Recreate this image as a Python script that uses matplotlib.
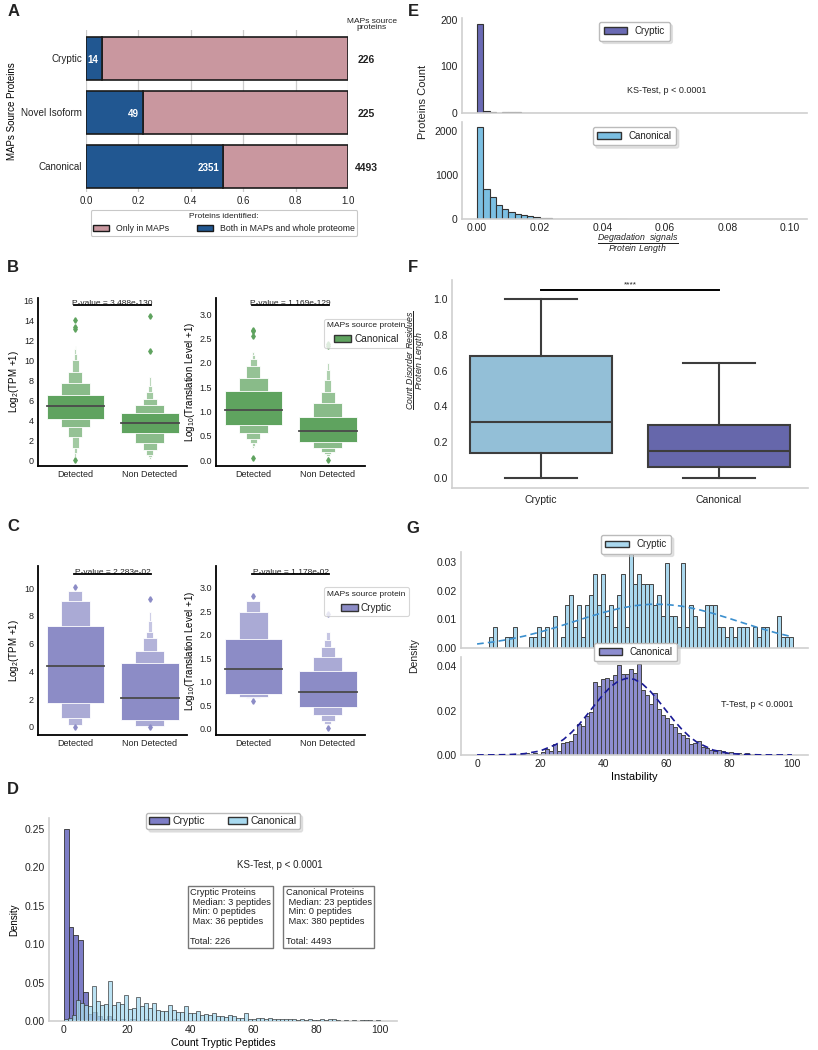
import matplotlib
matplotlib.use("Agg")
import matplotlib.pyplot as plt
import matplotlib.transforms as mtransforms
from matplotlib.patches import Patch
from matplotlib.colors import to_rgb
import numpy as np

plt.rcParams.update({
    "font.family": ["Liberation Sans", "DejaVu Sans"],
    "mathtext.fontset": "custom",
    "mathtext.rm": "Liberation Sans",
    "mathtext.it": "Liberation Sans:italic",
    "mathtext.bf": "Liberation Sans:bold",
    "axes.spines.top": False,
    "axes.spines.right": False,
    "xtick.major.size": 0,
    "ytick.major.size": 0,
    "xtick.major.pad": 3,
    "ytick.major.pad": 3,
    "text.color": "#222222",
    "xtick.color": "#222222",
    "ytick.color": "#222222",
})

# ---------------- A: share of MAPs source proteins also in whole proteome
A_CATS = ["Cryptic", "Novel Isoform", "Canonical"]
A_BOTH = [14, 49, 2351]
A_TOTAL = [226, 225, 4493]

# ---------------- B: canonical, letter-value levels (lower / upper bound per level)
B_TPM_DET_LO = [4.15, 3.35, 2.33, 1.25, 0.7, 0.35, 0.15]
B_TPM_DET_HI = [6.55, 7.7, 8.88, 10.1, 10.7, 11.2, 11.5]
B_TPM_DET_MED = 5.4
B_TPM_DET_OUT = [14.1, 13.35, 13.2, 0.0]
B_TPM_NON_LO = [2.67, 1.73, 1.0, 0.55, 0.3, 0.15]
B_TPM_NON_HI = [4.75, 5.52, 6.12, 6.87, 7.47, 8.37]
B_TPM_NON_MED = 3.74
B_TPM_NON_OUT = [14.5, 10.96]
B_TL_DET_LO = [0.72, 0.55, 0.43, 0.36, 0.3, 0.25]
B_TL_DET_HI = [1.41, 1.68, 1.94, 2.07, 2.16, 2.23]
B_TL_DET_MED = 1.02
B_TL_DET_OUT = [2.68, 2.65, 2.54, 0.05]
B_TL_NON_LO = [0.38, 0.25, 0.17, 0.12, 0.08, 0.05]
B_TL_NON_HI = [0.89, 1.18, 1.39, 1.65, 1.85, 2.0]
B_TL_NON_MED = 0.6
B_TL_NON_OUT = [2.38, 2.34, 0.0]
B_PVAL = ["P-value = 3.488e-130", "P-value = 1.169e-129"]

# ---------------- C: cryptic
C_TPM_DET_LO = [1.74, 0.65, 0.15]
C_TPM_DET_HI = [7.3, 9.05, 9.8]
C_TPM_DET_MED = 4.4
C_TPM_DET_OUT = [10.1, 0.0]
C_TPM_NON_LO = [0.5, 0.06, 0.04, 0.03, 0.02, 0.01]
C_TPM_NON_HI = [4.6, 5.5, 6.4, 6.85, 7.6, 8.3]
C_TPM_NON_MED = 2.1
C_TPM_NON_OUT = [9.2, 0.0]
C_TL_DET_LO = [0.73, 0.68, 0.66]
C_TL_DET_HI = [1.9, 2.49, 2.73]
C_TL_DET_MED = 1.28
C_TL_DET_OUT = [2.82, 0.59]
C_TL_NON_LO = [0.46, 0.28, 0.15, 0.1, 0.07]
C_TL_NON_HI = [1.23, 1.52, 1.74, 1.88, 2.05]
C_TL_NON_MED = 0.78
C_TL_NON_OUT = [2.44, 0.0]
C_PVAL = ["P-value = 2.283e-02", "P-value = 1.178e-02"]

GROUPS = ["Detected", "Non Detected"]

# ---------------- D: tryptic peptide counts (density per bin)
D_CRYP_BINW = 1.5
D_CRYP_DENS = [0.250, 0.122, 0.112, 0.105, 0.038, 0.009, 0.012, 0.006, 0.003, 0.006,
               0.003, 0.0, 0.003, 0.0, 0.003, 0.0, 0.0, 0.003, 0.0, 0.0,
               0.0, 0.0, 0.0, 0.003]
D_CANON_BINW = 1.267
D_CANON_DENS = [0.002, 0.004, 0.008, 0.027, 0.024, 0.021, 0.020, 0.046, 0.026, 0.021,
                0.022, 0.052, 0.021, 0.025, 0.022, 0.034, 0.016, 0.017, 0.031, 0.020,
                0.023, 0.017, 0.023, 0.014, 0.013, 0.013, 0.021, 0.014, 0.012, 0.012,
                0.019, 0.011, 0.010, 0.013, 0.008, 0.009, 0.008, 0.010, 0.006, 0.006,
                0.005, 0.008, 0.006, 0.004, 0.004, 0.010, 0.003, 0.003, 0.004, 0.004,
                0.003, 0.004, 0.002, 0.002, 0.002, 0.003, 0.002, 0.002, 0.001, 0.002,
                0.001, 0.002, 0.001, 0.001, 0.002, 0.001, 0.002, 0.002, 0.001, 0.0,
                0.001, 0.0, 0.001, 0.0, 0.001, 0.001, 0.001, 0.0, 0.001]
D_STATS = ["Cryptic Proteins\n Median: 3 peptides\n Min: 0 peptides\n Max: 36 peptides\n\nTotal: 226",
           "Canonical Proteins\n Median: 23 peptides\n Min: 0 peptides\n Max: 380 peptides\n\nTotal: 4493"]

# ---------------- E: degradation signals / protein length (counts, bins of 0.002)
E_BINW = 0.002
E_CRYP_COUNTS = [192, 5, 2, 1, 2, 2, 2, 1, 0, 1, 1, 0, 1, 1, 0, 0, 0, 0, 0, 1,
                 0, 0, 0, 0, 0, 0, 0, 0, 0, 0, 0, 0, 0, 1, 0, 0, 0, 0, 0, 0,
                 0, 0, 0, 0, 0, 0, 0, 0, 1, 0]
E_CANON_COUNTS = [2100, 690, 500, 330, 230, 170, 120, 85, 60, 38, 25, 20, 12, 9, 6, 4, 3, 2, 2, 1,
                  1, 1, 0, 1]

# ---------------- F: disorder fraction box stats
F_CATS = ["Cryptic", "Canonical"]
F_Q1 = [0.14, 0.06]
F_MED = [0.315, 0.15]
F_Q3 = [0.68, 0.295]
F_WLO = [0.0, 0.0]
F_WHI = [1.0, 0.64]

# ---------------- G: instability
G_CRYP_X0, G_CRYP_X1 = 3.9, 100.2
G_CRYP_COUNTS = [1, 2, 0, 0, 1, 1, 2, 0, 0, 0, 1, 1, 2, 1, 2, 0, 3, 0, 1, 4,
                 5, 2, 4, 1, 4, 5, 7, 4, 7, 3, 4, 2, 5, 7, 2, 9, 6, 7, 6, 6,
                 6, 4, 5, 3, 8, 3, 3, 2, 8, 2, 4, 3, 2, 2, 4, 4, 4, 2, 2, 1,
                 2, 1, 2, 2, 2, 0, 2, 1, 2, 2, 0, 0, 3, 1, 1, 1]
G_CANON_X0, G_CANON_BINW = 5.1, 1.27
G_CANON_DENS = [0.0, 0.0001, 0.0, 0.0001, 0.0002, 0.0002, 0.0003, 0.0003, 0.0010, 0.0003,
                0.0007, 0.0005, 0.0015, 0.0027, 0.0018, 0.0050, 0.0018, 0.0055, 0.0060, 0.0064,
                0.0093, 0.0140, 0.0130, 0.0177, 0.0195, 0.0330, 0.0310, 0.0345, 0.0350, 0.0337,
                0.0360, 0.0408, 0.0367, 0.0367, 0.0390, 0.0370, 0.0410, 0.0295, 0.0270, 0.0230,
                0.0280, 0.0210, 0.0180, 0.0165, 0.0140, 0.0125, 0.0100, 0.0090, 0.0075, 0.0048,
                0.0055, 0.0063, 0.0034, 0.0030, 0.0022, 0.0018, 0.0022, 0.0020, 0.0010, 0.0012,
                0.0009, 0.0007, 0.0004, 0.0010, 0.0004, 0.0004, 0.0002, 0.0002, 0.0001, 0.0001,
                0.0001]
G_CRYP_FIT_X = [0, 5, 10, 15, 20, 25, 30, 35, 40, 45, 50, 55, 60, 65, 70, 75, 80, 85, 90, 95, 100]
G_CRYP_FIT_Y = [0.00139, 0.00208, 0.00299, 0.00416, 0.00557, 0.00719, 0.00895, 0.01073, 0.01239,
                0.01379, 0.01480, 0.01530, 0.01524, 0.01463, 0.01354, 0.01207, 0.01037, 0.00859,
                0.00686, 0.00527, 0.00391]
G_CANON_FIT_X = [0, 5, 10, 15, 20, 25, 27.5, 30, 32.5, 35, 37.5, 40, 42.5, 45, 47.5, 50, 52.5,
                 55, 57.5, 60, 62.5, 65, 67.5, 70, 75, 80, 85, 90, 95, 100]
G_CANON_FIT_Y = [0.0, 0.00003, 0.00015, 0.00057, 0.00179, 0.00469, 0.00708, 0.01019, 0.01399,
                 0.01831, 0.02287, 0.02724, 0.03094, 0.03353, 0.03466, 0.03417, 0.03213, 0.02883,
                 0.02466, 0.02013, 0.01567, 0.01164, 0.00824, 0.00556, 0.00220, 0.00072, 0.00020,
                 0.00004, 0.00001, 0.0]

PINK = "#c9979f"
NAVY = "#215791"
GREEN = "#5fa35f"
PURPLE = "#8c8cc6"
SLATE = "#6a6ab4"
SKY = "#7bbfe2"
LIGHTBLUE = "#aad8ee"
GRAY_SPINE = "#cfcfcf"
EDGE = "#333333"
SHADOW = {"color": "0.8", "alpha": 0.5}


def lighten(color, amount):
    r, g, b = to_rgb(color)
    return (r + (1 - r) * amount, g + (1 - g) * amount, b + (1 - b) * amount)


def soft_spines(ax):
    for s in ["left", "bottom"]:
        ax.spines[s].set_color(GRAY_SPINE)
        ax.spines[s].set_linewidth(1.2)


def boxen(ax, x, lo, hi, med, out, color):
    w = 0.77
    for k in range(len(lo) - 1, -1, -1):
        shade = color if k == 0 else lighten(color, min(0.18 + 0.08 * k, 0.75))
        ax.bar(x, hi[k] - lo[k], bottom=lo[k], width=w * 0.5 ** k, color=shade,
               edgecolor="white", linewidth=0.6, zorder=2)
    ax.plot([x - w / 2, x + w / 2], [med, med], color="#4a4a4a", lw=1.3, zorder=3)
    ax.plot([x] * len(out), out, "d", color=color, ms=2.8, zorder=3)


def pval(ax, y, text):
    ax.plot([-0.02, 1.02], [y, y], color="black", lw=1.3, clip_on=False, zorder=4)
    ax.text(0.5, y, text, ha="center", va="baseline", fontsize=6, clip_on=False)


def boxen_axes(ax, data, color, ylim, yticks, ylabel, pv, pv_y, legend_label=None):
    for x, (lo, hi, med, out) in enumerate(data):
        boxen(ax, x, lo, hi, med, out, color)
    ax.set_xlim(-0.5, 1.5)
    ax.set_ylim(*ylim)
    ax.set_yticks(yticks)
    ax.set_xticks([0, 1])
    ax.set_xticklabels(GROUPS, fontsize=6.5)
    ax.tick_params(axis="y", labelsize=6.5)
    for s in ["left", "bottom"]:
        ax.spines[s].set_linewidth(1.3)
        ax.spines[s].set_color("black")
    ax.set_ylabel(ylabel, fontsize=7, labelpad=2)
    pval(ax, pv_y, pv)
    if legend_label:
        h = [Patch(facecolor=color, edgecolor=EDGE, lw=1, label=legend_label)]
        leg = ax.legend(handles=h, title="MAPs source protein", loc="upper left",
                        bbox_to_anchor=(0.69, 0.905), fontsize=7.2, title_fontsize=6,
                        handlelength=1.7, handletextpad=0.3, borderpad=0.35,
                        frameon=True, edgecolor="#cccccc", fancybox=True)
        leg.get_frame().set_linewidth(0.8)


fig = plt.figure(figsize=(8.18, 10.5), dpi=100)

# ---------------- Panel A
axA = fig.add_axes([0.1051, 0.8171, 0.3203, 0.1543])
frac = np.array(A_BOTH) / np.array(A_TOTAL)
ys = np.arange(len(A_CATS))
axA.barh(ys, 1 - frac, left=frac, height=0.8, color=PINK, edgecolor="#1a1a1a", lw=1.2, zorder=2)
axA.barh(ys, frac, height=0.8, color=NAVY, edgecolor="#1a1a1a", lw=1.2, zorder=2)
row = mtransforms.blended_transform_factory(axA.transAxes, axA.transData)
for y, f, n, t in zip(ys, frac, A_BOTH, A_TOTAL):
    axA.text(f - 0.015, y + 0.03, str(n), ha="right", va="center", color="white",
             fontsize=7, fontweight="bold", zorder=3)
    axA.text(1.07, y + 0.03, str(t), transform=row, ha="center", va="center",
             fontsize=7.5, fontweight="bold")
axA.text(1.09, 1.035, "MAPs source\nproteins", transform=axA.transAxes, ha="center", va="center",
         fontsize=6, linespacing=0.9)
axA.set_xlim(0, 1)
axA.set_ylim(2.48, -0.52)
axA.set_yticks(ys)
axA.set_yticklabels(A_CATS, fontsize=7.1)
axA.set_xticks(np.arange(0, 1.01, 0.2))
axA.tick_params(axis="x", labelsize=7)
axA.grid(axis="x", color="#cccccc", lw=0.9, zorder=0)
axA.set_axisbelow(True)
for s in axA.spines.values():
    s.set_visible(False)
axA.set_ylabel("MAPs Source Proteins", fontsize=7, labelpad=3)
legA = axA.legend(handles=[Patch(facecolor=PINK, edgecolor="#1a1a1a", label="Only in MAPs"),
                           Patch(facecolor=NAVY, edgecolor="#1a1a1a", label="Both in MAPs and whole proteome")],
                  title="Proteins identified:", ncol=2, loc="upper center", bbox_to_anchor=(0.527, -0.085),
                  fontsize=6.3, title_fontsize=6, handlelength=1.8, handleheight=0.8,
                  columnspacing=3.2, borderpad=0.3, frameon=True, edgecolor="#bbbbbb")
legA.get_frame().set_linewidth(0.8)

# ---------------- Panel B
axB1 = fig.add_axes([0.0465, 0.5562, 0.1822, 0.16])
axB2 = fig.add_axes([0.2641, 0.5562, 0.1822, 0.16])
boxen_axes(axB1, [(B_TPM_DET_LO, B_TPM_DET_HI, B_TPM_DET_MED, B_TPM_DET_OUT),
                  (B_TPM_NON_LO, B_TPM_NON_HI, B_TPM_NON_MED, B_TPM_NON_OUT)],
           GREEN, (-0.6, 16.3), np.arange(0, 17, 2), r"Log$_2$(TPM +1)", B_PVAL[0], 15.6)
boxen_axes(axB2, [(B_TL_DET_LO, B_TL_DET_HI, B_TL_DET_MED, B_TL_DET_OUT),
                  (B_TL_NON_LO, B_TL_NON_HI, B_TL_NON_MED, B_TL_NON_OUT)],
           GREEN, (-0.12, 3.33), np.arange(0, 3.01, 0.5), r"Log$_{10}$(Translation Level +1)",
           B_PVAL[1], 3.18, legend_label="Canonical")
axB2.set_yticklabels([f"{v:.1f}" for v in np.arange(0, 3.01, 0.5)])

# ---------------- Panel C
axC1 = fig.add_axes([0.0465, 0.30, 0.1822, 0.161])
axC2 = fig.add_axes([0.2641, 0.30, 0.1822, 0.161])
boxen_axes(axC1, [(C_TPM_DET_LO, C_TPM_DET_HI, C_TPM_DET_MED, C_TPM_DET_OUT),
                  (C_TPM_NON_LO, C_TPM_NON_HI, C_TPM_NON_MED, C_TPM_NON_OUT)],
           PURPLE, (-0.58, 11.6), np.arange(0, 11, 2), r"Log$_2$(TPM +1)", C_PVAL[0], 11.0)
boxen_axes(axC2, [(C_TL_DET_LO, C_TL_DET_HI, C_TL_DET_MED, C_TL_DET_OUT),
                  (C_TL_NON_LO, C_TL_NON_HI, C_TL_NON_MED, C_TL_NON_OUT)],
           PURPLE, (-0.14, 3.47), np.arange(0, 3.01, 0.5), r"Log$_{10}$(Translation Level +1)",
           C_PVAL[1], 3.3, legend_label="Cryptic")
axC2.set_yticklabels([f"{v:.1f}" for v in np.arange(0, 3.01, 0.5)])

# ---------------- Panel D
axD = fig.add_axes([0.0599, 0.0276, 0.4254, 0.1933])
d_cryp_left = np.arange(len(D_CRYP_DENS)) * D_CRYP_BINW
d_canon_left = np.arange(len(D_CANON_DENS)) * D_CANON_BINW
axD.bar(d_cryp_left, D_CRYP_DENS, width=D_CRYP_BINW, align="edge", color="#7d7dc6",
        edgecolor=EDGE, lw=0.6, zorder=2)
axD.bar(d_canon_left, D_CANON_DENS, width=D_CANON_BINW, align="edge", color="#a8daf0",
        alpha=0.78, edgecolor=EDGE, lw=0.6, zorder=3)
axD.set_xlim(-4.7, 105.4)
axD.set_ylim(0, 0.264)
axD.set_xticks(np.arange(0, 101, 20))
axD.set_yticks(np.arange(0, 0.26, 0.05))
axD.set_yticklabels([f"{v:.2f}" for v in np.arange(0, 0.26, 0.05)])
axD.tick_params(labelsize=7.5)
soft_spines(axD)
axD.set_xlabel("Count Tryptic Peptides", fontsize=7.5, labelpad=2)
axD.set_ylabel("Density", fontsize=7, labelpad=4)
axD.legend(handles=[Patch(facecolor="#7d7dc6", edgecolor=EDGE, label="Cryptic"),
                    Patch(facecolor="#a8daf0", edgecolor=EDGE, label="Canonical")],
           ncol=2, loc="center", bbox_to_anchor=(0.5, 0.985), fontsize=7.5,
           handlelength=1.9, columnspacing=2.2, handletextpad=0.3, borderpad=0.3,
           frameon=True, edgecolor="#bbbbbb", shadow=SHADOW)
axD.text(0.664, 0.768, "KS-Test, p < 0.0001", transform=axD.transAxes, ha="center", va="center",
         fontsize=7)
for x0, txt in zip([0.405, 0.68], D_STATS):
    axD.text(x0, 0.655, txt, transform=axD.transAxes, ha="left", va="top", fontsize=6.7,
             linespacing=1.1, bbox=dict(boxstyle="square,pad=0.25", fc="white", ec="#777777", lw=1.0))

# ---------------- Panel E
axE1 = fig.add_axes([0.5648, 0.8924, 0.4218, 0.0905])
axE2 = fig.add_axes([0.5648, 0.7914, 0.4218, 0.0924])
e_left_c = np.arange(len(E_CRYP_COUNTS)) * E_BINW
e_left_k = np.arange(len(E_CANON_COUNTS)) * E_BINW
axE1.bar(e_left_c, E_CRYP_COUNTS, width=E_BINW, align="edge", color=SLATE, edgecolor=EDGE, lw=0.8)
axE2.bar(e_left_k, E_CANON_COUNTS, width=E_BINW, align="edge", color=SKY, edgecolor=EDGE, lw=0.8)
for ax, top, ticks in [(axE1, 204, [0, 100, 200]), (axE2, 2205, [0, 1000, 2000])]:
    ax.set_xlim(-0.0048, 0.1054)
    ax.set_ylim(0, top)
    ax.set_yticks(ticks)
    ax.tick_params(labelsize=7.5)
    soft_spines(ax)
axE1.set_xticks([])
axE2.set_xticks(np.arange(0, 0.101, 0.02))
axE2.set_xticklabels([f"{v:.2f}" for v in np.arange(0, 0.101, 0.02)])
axE1.legend(handles=[Patch(facecolor=SLATE, edgecolor=EDGE, label="Cryptic")], loc="center",
            bbox_to_anchor=(0.5, 0.86), fontsize=7, handlelength=2.4, borderpad=0.45,
            edgecolor="#bbbbbb", shadow=SHADOW)
axE2.legend(handles=[Patch(facecolor=SKY, edgecolor=EDGE, label="Canonical")], loc="center",
            bbox_to_anchor=(0.5, 0.856), fontsize=7, handlelength=2.4, borderpad=0.45,
            edgecolor="#bbbbbb", shadow=SHADOW)
axE1.text(0.594, 0.24, "KS-Test, p < 0.0001", transform=axE1.transAxes, ha="center", va="center",
          fontsize=6.5)
fig.text(0.517, 0.903, "Proteins Count", rotation=90, ha="center", va="center", fontsize=8)
fig.text(0.78, 0.768, r"$\dfrac{\mathit{Degradation\ \ signals}}{\mathit{Protein\ Length}}$",
         ha="center", va="center", fontsize=6.3)

# ---------------- Panel F
axF = fig.add_axes([0.5526, 0.5352, 0.4352, 0.1981])
stats = [dict(label=c, q1=q1, med=m, q3=q3, whislo=lo, whishi=hi, fliers=[])
         for c, q1, m, q3, lo, hi in zip(F_CATS, F_Q1, F_MED, F_Q3, F_WLO, F_WHI)]
line_kw = dict(color="#3d3d3d", lw=1.5)
bp = axF.bxp(stats, positions=[0, 1], widths=0.8, capwidths=0.4, patch_artist=True,
             showfliers=False, boxprops=dict(edgecolor="#3d3d3d", lw=1.5),
             medianprops=line_kw, whiskerprops=line_kw, capprops=line_kw)
for patch, c in zip(bp["boxes"], ["#93bfd7", "#6667ab"]):
    patch.set_facecolor(c)
axF.set_xlim(-0.5, 1.5)
axF.set_ylim(-0.056, 1.106)
axF.set_yticks(np.arange(0, 1.01, 0.2))
axF.set_yticklabels([f"{v:.1f}" for v in np.arange(0, 1.01, 0.2)])
axF.tick_params(labelsize=7.5)
axF.tick_params(axis="x", labelsize=7.5, pad=5)
soft_spines(axF)
axF.plot([0, 1], [1.05, 1.05], color="black", lw=1.4)
axF.text(0.5, 1.062, "****", ha="center", va="bottom", fontsize=6)
fig.text(0.508, 0.657, r"$\dfrac{\mathit{Count\ Disorder\ Residues}}{\mathit{Protein\ Length}}$",
         rotation=90, ha="center", va="center", fontsize=6.3)

# ---------------- Panel G
axG1 = fig.add_axes([0.5636, 0.3829, 0.4242, 0.0914])
axG2 = fig.add_axes([0.5636, 0.2810, 0.4242, 0.0933])
g_cryp_edges = np.linspace(G_CRYP_X0, G_CRYP_X1, len(G_CRYP_COUNTS) + 1)
g_cryp_w = g_cryp_edges[1] - g_cryp_edges[0]
g_cryp_counts = np.array(G_CRYP_COUNTS, dtype=float)
axG1.bar(g_cryp_edges[:-1], g_cryp_counts / (g_cryp_counts.sum() * g_cryp_w), width=g_cryp_w,
         align="edge", color=LIGHTBLUE, edgecolor="#444444", lw=0.7, zorder=2)
axG1.plot(G_CRYP_FIT_X, G_CRYP_FIT_Y, ls=(0, (4, 2.5)), color="#3b8fce", lw=1.2, zorder=3)
g_canon_left = G_CANON_X0 + np.arange(len(G_CANON_DENS)) * G_CANON_BINW
axG2.bar(g_canon_left, G_CANON_DENS, width=G_CANON_BINW, align="edge", color="#8e8ed0",
         edgecolor="#444444", lw=0.7, zorder=2)
axG2.plot(G_CANON_FIT_X, G_CANON_FIT_Y, ls=(0, (4, 2.5)), color="#1a1a96", lw=1.2, zorder=3)
for ax, top, ticks in [(axG1, 0.0336, [0, 0.01, 0.02, 0.03]), (axG2, 0.0443, [0, 0.02, 0.04])]:
    ax.set_xlim(-5.1, 105.1)
    ax.set_ylim(0, top)
    ax.set_yticks(ticks)
    ax.set_yticklabels([f"{v:.2f}" for v in ticks])
    ax.tick_params(labelsize=7.5)
    soft_spines(ax)
axG1.set_xticks([])
axG2.set_xticks(np.arange(0, 101, 20))
axG2.set_xlabel("Instability", fontsize=8, labelpad=2)
axG1.legend(handles=[Patch(facecolor=LIGHTBLUE, edgecolor=EDGE, label="Cryptic")], loc="center",
            bbox_to_anchor=(0.504, 1.08), fontsize=7, handlelength=2.4, borderpad=0.45,
            edgecolor="#bbbbbb", shadow=SHADOW)
axG2.legend(handles=[Patch(facecolor="#8e8ed0", edgecolor=EDGE, label="Canonical")], loc="center",
            bbox_to_anchor=(0.504, 1.05), fontsize=7, handlelength=2.4, borderpad=0.45,
            edgecolor="#bbbbbb", shadow=SHADOW)
axG2.text(0.853, 0.52, "T-Test, p < 0.0001", transform=axG2.transAxes, ha="center", va="center",
          fontsize=6.5)
fig.text(0.506, 0.376, "Density", rotation=90, ha="center", va="center", fontsize=7.5)

# ---------------- panel letters
for letter, x, y in [("A", 0.016, 0.989), ("B", 0.016, 0.745), ("C", 0.016, 0.499), ("D", 0.016, 0.248),
                     ("E", 0.505, 0.989), ("F", 0.505, 0.745), ("G", 0.505, 0.497)]:
    fig.text(x, y, letter, fontsize=12, fontweight="bold", ha="center", va="center")

fig.savefig("out.png", dpi=100)
